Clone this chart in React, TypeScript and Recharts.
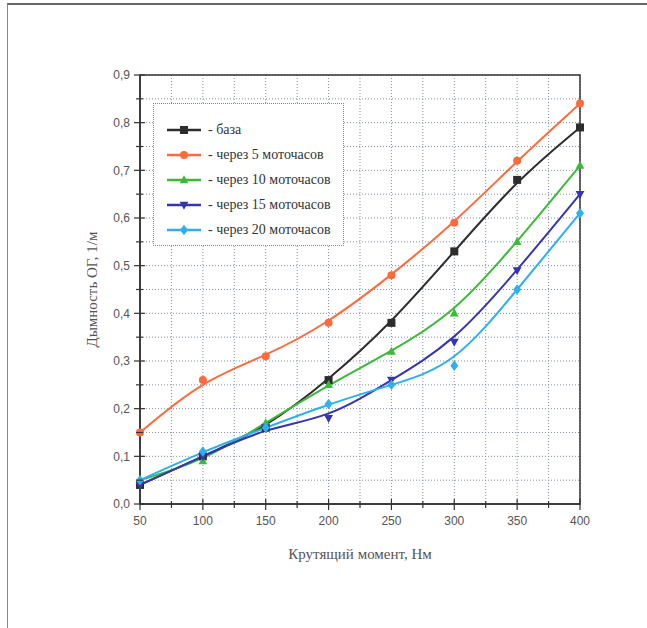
import React from "react";
import {
  LineChart,
  Line,
  XAxis,
  YAxis,
  CartesianGrid,
  ReferenceArea,
} from "recharts";

// torque, N·m
const torque = [50, 100, 150, 200, 250, 300, 350, 400];

// smoke opacity, 1/m
const baseSmoke = [0.04, 0.1, 0.16, 0.26, 0.38, 0.53, 0.68, 0.79];
const smoke5h = [0.15, 0.26, 0.31, 0.38, 0.48, 0.59, 0.72, 0.84];
const smoke10h = [0.05, 0.09, 0.17, 0.25, 0.32, 0.4, 0.55, 0.71];
const smoke15h = [0.04, 0.1, 0.16, 0.18, 0.26, 0.34, 0.49, 0.65];
const smoke20h = [0.05, 0.11, 0.16, 0.21, 0.25, 0.29, 0.45, 0.61];

const xTicks = [50, 75, 100, 125, 150, 175, 200, 225, 250, 275, 300, 325, 350, 375, 400];
const yTicks = [
  0, 0.05, 0.1, 0.15, 0.2, 0.25, 0.3, 0.35, 0.4, 0.45, 0.5, 0.55, 0.6, 0.65, 0.7, 0.75,
  0.8, 0.85, 0.9,
];

const series = [
  { key: "base", name: "- база", color: "#2d2d2d", shape: "square", values: baseSmoke },
  { key: "h5", name: "- через 5 моточасов", color: "#ff6a3d", shape: "circle", values: smoke5h },
  { key: "h10", name: "- через 10 моточасов", color: "#3dba3a", shape: "up", values: smoke10h },
  { key: "h15", name: "- через 15 моточасов", color: "#3636ae", shape: "down", values: smoke15h },
  { key: "h20", name: "- через 20 моточасов", color: "#2fb0ee", shape: "diamond", values: smoke20h },
];

const data = torque.map((t, i) => {
  const row: Record<string, number> = { torque: t };
  series.forEach((s) => {
    row[s.key] = s.values[i];
  });
  return row;
});

const TICK_SIZE = 5;
const TICK_MARGIN = 5;
const axisColor = "#333";
const labelColor = "#555";

function Marker({ shape, cx, cy, color, r = 4 }: any) {
  if (cx == null || cy == null) return null;
  switch (shape) {
    case "square":
      return <rect x={cx - r} y={cy - r} width={r * 2} height={r * 2} fill={color} />;
    case "circle":
      return <circle cx={cx} cy={cy} r={r} fill={color} />;
    case "up":
      return (
        <polygon
          points={`${cx},${cy - r * 1.2} ${cx + r * 1.1},${cy + r * 0.8} ${cx - r * 1.1},${cy + r * 0.8}`}
          fill={color}
        />
      );
    case "down":
      return (
        <polygon
          points={`${cx},${cy + r * 1.2} ${cx + r * 1.1},${cy - r * 0.8} ${cx - r * 1.1},${cy - r * 0.8}`}
          fill={color}
        />
      );
    default:
      return (
        <polygon
          points={`${cx},${cy - r * 1.3} ${cx + r},${cy} ${cx},${cy + r * 1.3} ${cx - r},${cy}`}
          fill={color}
        />
      );
  }
}

const YTick = (props: any) => {
  const { x, y, payload } = props;
  const v = payload.value;
  const major = Math.round(v * 100) % 10 === 0;
  const ax = x + TICK_SIZE + TICK_MARGIN;
  return (
    <g>
      <line
        x1={ax - (major ? 6 : 4)}
        x2={ax + (major ? 5 : 3)}
        y1={y}
        y2={y}
        stroke={axisColor}
        strokeWidth={1.2}
      />
      {major && (
        <text
          x={x}
          y={y}
          dy="0.35em"
          textAnchor="end"
          fontSize={12}
          fill={labelColor}
          fontFamily="Liberation Sans, Arial, sans-serif"
        >
          {v.toFixed(1).replace(".", ",")}
        </text>
      )}
    </g>
  );
};

const XTick = (props: any) => {
  const { x, y, payload } = props;
  const v = payload.value;
  const major = v % 50 === 0;
  const ay = y - TICK_SIZE - TICK_MARGIN;
  return (
    <g>
      <line
        x1={x}
        x2={x}
        y1={ay - (major ? 5 : 3)}
        y2={ay + (major ? 6 : 4)}
        stroke={axisColor}
        strokeWidth={1.2}
      />
      {major && (
        <text
          x={x}
          y={y}
          dy="0.9em"
          textAnchor="middle"
          fontSize={12}
          fill={labelColor}
          fontFamily="Liberation Sans, Arial, sans-serif"
        >
          {v}
        </text>
      )}
    </g>
  );
};

function LegendBox() {
  return (
    <div
      style={{
        position: "absolute",
        left: 153,
        top: 103,
        width: 191,
        height: 143,
        boxSizing: "border-box",
        border: "1px dotted #888",
        background: "#fff",
        paddingTop: 13,
        paddingLeft: 11,
      }}
    >
      {series.map((s) => (
        <div
          key={s.key}
          style={{ display: "flex", alignItems: "center", height: 25 }}
        >
          <svg width={40} height={14}>
            <line x1={2} x2={36} y1={7} y2={7} stroke={s.color} strokeWidth={2.5} />
            <Marker shape={s.shape} cx={19} cy={7} color={s.color} />
          </svg>
          <span
            style={{
              fontFamily: "Liberation Serif, Times New Roman, serif",
              fontSize: 14,
              color: "#333",
              marginLeft: 3,
              whiteSpace: "nowrap",
            }}
          >
            {s.name}
          </span>
        </div>
      ))}
    </div>
  );
}

export default function App() {
  return (
    <div
      style={{
        position: "absolute",
        left: 0,
        top: 0,
        width: 647,
        height: 628,
        background: "#fff",
        overflow: "hidden",
      }}
    >
      <div
        style={{
          position: "absolute",
          left: 7,
          top: 3,
          right: 0,
          bottom: 0,
          borderTop: "2px solid #666",
          borderLeft: "1.5px solid #888",
        }}
      />
      <LineChart
        width={647}
        height={628}
        data={data}
        margin={{ top: 75, right: 67, bottom: 94, left: 100 }}
      >
        <CartesianGrid stroke="#8391a8" strokeDasharray="1 2" strokeWidth={1} />
        <XAxis
          dataKey="torque"
          type="number"
          domain={[50, 400]}
          ticks={xTicks}
          interval={0}
          height={30}
          tickSize={TICK_SIZE}
          tickMargin={TICK_MARGIN}
          tickLine={false}
          tick={<XTick />}
          axisLine={{ stroke: axisColor, strokeWidth: 1.5 }}
          label={{
            value: "Крутящий момент, Нм",
            position: "bottom",
            offset: 14,
            fontSize: 15,
            fill: labelColor,
            fontFamily: "Liberation Serif, Times New Roman, serif",
          }}
        />
        <YAxis
          type="number"
          domain={[0, 0.9]}
          ticks={yTicks}
          interval={0}
          width={40}
          tickSize={TICK_SIZE}
          tickMargin={TICK_MARGIN}
          tickLine={false}
          tick={<YTick />}
          axisLine={{ stroke: axisColor, strokeWidth: 1.5 }}
          label={{
            content: ({ viewBox }: any) => {
              const lx = viewBox.x - 8;
              const ly = viewBox.y + viewBox.height / 2;
              return (
                <text
                  x={lx}
                  y={ly}
                  transform={`rotate(-90, ${lx}, ${ly})`}
                  textAnchor="middle"
                  dominantBaseline="central"
                  fontSize={15}
                  fill={labelColor}
                  fontFamily="Liberation Serif, Times New Roman, serif"
                >
                  Дымность ОГ, 1/м
                </text>
              );
            },
          }}
        />
        <ReferenceArea
          x1={50}
          x2={400}
          y1={0}
          y2={0.9}
          fill="none"
          stroke={axisColor}
          strokeWidth={1.5}
          ifOverflow="visible"
        />
        {series.map((s) => (
          <Line
            key={s.key}
            type="basis"
            dataKey={s.key}
            name={s.name}
            stroke={s.color}
            strokeWidth={2}
            isAnimationActive={false}
            dot={(p: any) => (
              <Marker
                key={`${s.key}-${p.index}`}
                shape={s.shape}
                cx={p.cx}
                cy={p.cy}
                color={s.color}
              />
            )}
            activeDot={false}
          />
        ))}
      </LineChart>
      <LegendBox />
    </div>
  );
}
